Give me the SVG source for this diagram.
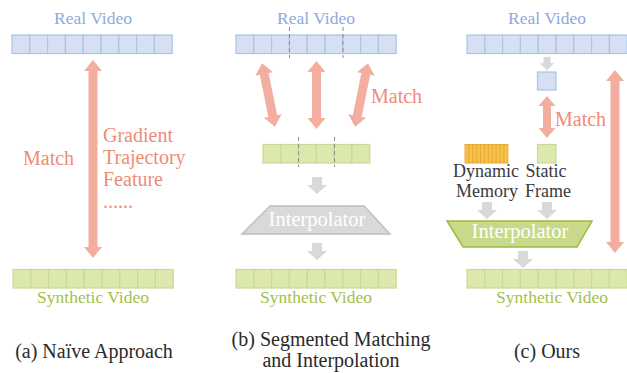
<svg xmlns="http://www.w3.org/2000/svg" width="627" height="373" viewBox="0 0 627 373">
  <style>
    text { font-family: "Liberation Serif", Tinos, "DejaVu Serif", serif; }
    .blue { fill: #d5e1f3; stroke: #abc4e8; stroke-width: 1.2; }
    .green { fill: #dde8ae; stroke: #c9da92; stroke-width: 1.2; }
    .orange { fill: #f6c445; stroke: #eaa93c; stroke-width: 1; }
    .lbl-blue { fill: #8eaadb; font-size: 17.5px; text-anchor: middle; }
    .lbl-green { fill: #a4bf4a; font-size: 17.5px; text-anchor: middle; }
    .match { fill: #ef8b76; font-size: 20px; }
    .dark { fill: #3a3a3a; font-size: 18px; text-anchor: middle; }
    .cap { fill: #2a2a2a; font-size: 20px; text-anchor: middle; }
    .interp { fill: #ffffff; font-size: 20.5px; text-anchor: middle; }
    .salmon { fill: #f4ae9f; }
    .gray { fill: #d9d9d9; }
    .dash { stroke: #8c8c8c; stroke-width: 1; stroke-dasharray: 4 3; fill: none; }
  </style>
  <defs>
    <!-- 9-cell frame strip, 160 wide; colours inherited from the <use> -->
    <g id="strip9">
      <rect x="0" y="0" width="17.8" height="18.5"/>
      <rect x="17.8" y="0" width="17.8" height="18.5"/>
      <rect x="35.6" y="0" width="17.8" height="18.5"/>
      <rect x="53.4" y="0" width="17.8" height="18.5"/>
      <rect x="71.2" y="0" width="17.8" height="18.5"/>
      <rect x="89" y="0" width="17.8" height="18.5"/>
      <rect x="106.8" y="0" width="17.8" height="18.5"/>
      <rect x="124.6" y="0" width="17.8" height="18.5"/>
      <rect x="142.4" y="0" width="17.8" height="18.5"/>
    </g>
    <!-- small downward block arrow, top at 0 -->
    <path id="down" d="M-5,0 H5 V8 H10 L0,17 L-10,8 H-5 Z"/>
  </defs>

  <!-- (a) naive approach -->
  <g id="a-real">
    <text class="lbl-blue" x="93" y="24">Real Video</text>
    <use href="#strip9" class="blue" x="12" y="35"/>
  </g>
  <g id="a-synthetic">
    <use href="#strip9" class="green" x="13" y="269.5"/>
    <text class="lbl-green" x="93" y="303">Synthetic Video</text>
  </g>
  <g id="a-labels">
    <text class="match" x="23" y="165">Match</text>
    <text class="match" x="103" y="142">Gradient</text>
    <text class="match" x="103" y="164">Trajectory</text>
    <text class="match" x="103" y="186">Feature</text>
    <text class="match" x="103" y="208">......</text>
  </g>

  <!-- (b) segmented matching -->
  <g id="b-real">
    <text class="lbl-blue" x="316" y="24">Real Video</text>
    <use href="#strip9" class="blue" x="236" y="35"/>
    <line class="dash" x1="289.5" y1="27" x2="289.5" y2="58"/>
    <line class="dash" x1="343" y1="27" x2="343" y2="58"/>
  </g>
  <g id="b-segment">
    <g class="green">
      <rect x="263" y="144.5" width="17.8" height="18.5"/>
      <rect x="280.8" y="144.5" width="17.8" height="18.5"/>
      <rect x="298.6" y="144.5" width="17.8" height="18.5"/>
      <rect x="316.4" y="144.5" width="17.8" height="18.5"/>
      <rect x="334.2" y="144.5" width="17.8" height="18.5"/>
      <rect x="352" y="144.5" width="17.8" height="18.5"/>
    </g>
    <line class="dash" x1="298.5" y1="137" x2="298.5" y2="167"/>
    <line class="dash" x1="334.5" y1="137" x2="334.5" y2="167"/>
  </g>
  <g id="b-interpolator">
    <polygon points="270,206 364,206 390,234 242,234" fill="#d9d9d9" stroke="#bfbfbf" stroke-width="1.5"/>
    <text class="interp" x="317" y="226">Interpolator</text>
  </g>
  <g id="b-synthetic">
    <use href="#strip9" class="green" x="236" y="269.5"/>
    <text class="lbl-green" x="316" y="303">Synthetic Video</text>
  </g>
  <text class="match" x="371" y="103">Match</text>

  <!-- (c) ours -->
  <g id="c-real">
    <text class="lbl-blue" x="547" y="24">Real Video</text>
    <use href="#strip9" class="blue" x="467" y="35"/>
  </g>
  <g id="c-keyframe" class="blue">
    <rect x="537.5" y="72" width="18.5" height="18"/>
  </g>
  <g id="c-memory">
    <g class="orange">
      <rect x="465" y="144.5" width="3.9" height="18.5"/>
      <rect x="468.9" y="144.5" width="3.9" height="18.5"/>
      <rect x="472.8" y="144.5" width="3.9" height="18.5"/>
      <rect x="476.7" y="144.5" width="3.9" height="18.5"/>
      <rect x="480.6" y="144.5" width="3.9" height="18.5"/>
      <rect x="484.5" y="144.5" width="3.9" height="18.5"/>
      <rect x="488.4" y="144.5" width="3.9" height="18.5"/>
      <rect x="492.3" y="144.5" width="3.9" height="18.5"/>
      <rect x="496.2" y="144.5" width="3.9" height="18.5"/>
      <rect x="500.1" y="144.5" width="3.9" height="18.5"/>
      <rect x="504" y="144.5" width="3.9" height="18.5"/>
    </g>
    <text class="dark" x="486" y="177">Dynamic</text>
    <text class="dark" x="487" y="197">Memory</text>
  </g>
  <g id="c-static">
    <g class="green"><rect x="537.5" y="144.5" width="18.5" height="18.5"/></g>
    <text class="dark" x="546" y="177">Static</text>
    <text class="dark" x="548" y="197">Frame</text>
  </g>
  <g id="c-interpolator">
    <polygon points="447,221 592,221 577,247 463,247" fill="#c8d98c" stroke="#9bbb3e" stroke-width="1.5"/>
    <text class="interp" x="520" y="238">Interpolator</text>
  </g>
  <g id="c-synthetic">
    <use href="#strip9" class="green" x="467" y="269.5"/>
    <text class="lbl-green" x="552" y="303">Synthetic Video</text>
  </g>
  <text class="match" x="555" y="126">Match</text>

  <!-- connectors -->
  <g id="connectors">
    <!-- match arrows -->
    <polygon class="salmon" points="93,60 102,71 97.5,71 97.5,247 102,247 93,258 84,247 88.5,247 88.5,71 84,71"/>
    <polygon class="salmon" transform="rotate(-11.5 268.5 95)" points="268.5,62.5 277.5,73.5 273,73.5 273,116.5 277.5,116.5 268.5,127.5 259.5,116.5 264,116.5 264,73.5 259.5,73.5"/>
    <polygon class="salmon" points="316.5,61 325.5,72 321,72 321,118 325.5,118 316.5,129 307.5,118 312,118 312,72 307.5,72"/>
    <polygon class="salmon" transform="rotate(11.5 361.5 95)" points="361.5,62.5 370.5,73.5 366,73.5 366,116.5 370.5,116.5 361.5,127.5 352.5,116.5 357,116.5 357,73.5 352.5,73.5"/>
    <polygon class="salmon" points="547,96 555.5,106 551,106 551,128 555.5,128 547,138 538.5,128 543,128 543,106 538.5,106"/>
    <polygon class="salmon" points="615,70 624,81 619.5,81 619.5,242 624,242 615,253 606,242 610.5,242 610.5,81 606,81"/>
    <!-- flow arrows -->
    <use href="#down" class="gray" x="317" y="177"/>
    <use href="#down" class="gray" x="317" y="243"/>
    <use href="#down" class="gray" transform="translate(547 57) scale(0.72 0.78)"/>
    <use href="#down" class="gray" x="487" y="202"/>
    <use href="#down" class="gray" x="547" y="202"/>
    <use href="#down" class="gray" x="523" y="251"/>
  </g>

  <!-- captions -->
  <g id="captions">
    <text class="cap" x="94" y="358">(a) Naïve Approach</text>
    <text class="cap" x="331" y="346">(b) Segmented Matching</text>
    <text class="cap" x="331" y="367">and Interpolation</text>
    <text class="cap" x="547" y="358">(c) Ours</text>
  </g>
</svg>
